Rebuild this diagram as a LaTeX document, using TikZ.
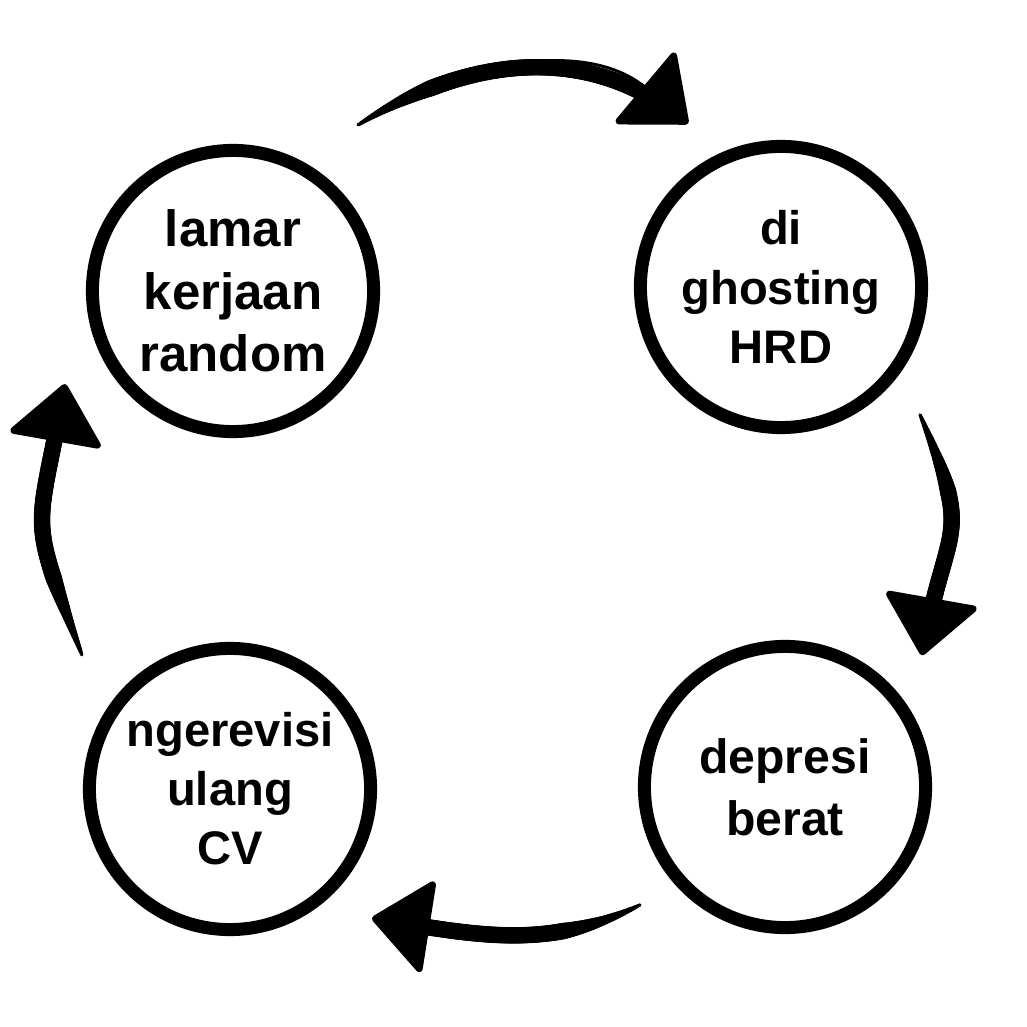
\documentclass[tikz,border=0pt]{standalone}
\usepackage{fontspec}
\setmainfont{Liberation Sans}
\usetikzlibrary{arrows.meta,calc,decorations.markings}

\begin{document}
\begin{tikzpicture}[x=0.01cm, y=0.01cm,
    stage/.style={circle, draw, line width=0.13cm, minimum size=2.81cm, inner sep=0pt, align=center},
    bigtext/.style={font=\fontsize{14.5}{17.8}\selectfont\bfseries},
    smalltext/.style={font=\fontsize{13.4}{16.8}\selectfont\bfseries},
    flow/.style={line width=0.03cm, -{Triangle[round, length=0.6cm, width=0.98cm, line width=0.07cm]},
      postaction={decorate},
      decoration={markings, mark=between positions 0 and -0.45cm step 0.5pt with {\pgfmathsetmacro\brushr{min(2.35,0.5+0.08*\pgfkeysvalueof{/pgf/decoration/mark info/distance from start})}\fill (0,0) circle (\brushr pt);}}}]
  \path[use as bounding box, fill=white] (0,0) rectangle (1027,1027);
  \node[stage, bigtext] (lamar) at (233,736) {lamar\\kerjaan\\random};
  \node[stage, smalltext] (ghost) at (781,740) {di\\ghosting\\HRD};
  \node[stage, smalltext, font=\fontsize{13.7}{17.6}\selectfont\bfseries] (depresi) at (785,240) {depresi\\berat};
  \node[stage, smalltext] (cv) at (230,238) {ngerevisi\\ulang\\CV};
  % ends of the round arrows, just outside the circles
  \coordinate (a1) at ($(lamar)+(53:208)$);
  \coordinate (b1) at ($(ghost)+(119.6:188)$);
  \coordinate (a2) at ($(ghost)+(-42.6:189)$);
  \coordinate (b2) at ($(depresi)+(43.9:190)$);
  \coordinate (a3) at ($(depresi)+(219.1:187)$);
  \coordinate (b3) at ($(cv)+(-42.3:192)$);
  \coordinate (a4) at ($(cv)+(137.8:200)$);
  \coordinate (b4) at ($(lamar)+(209:192)$);
  \draw[flow] (a1) to[out=32, in=140] (b1);
  \draw[flow] (a2) to[out=-67, in=80, looseness=1.5] (b2);
  \draw[flow] (a3) to[out=206.6, in=-9] (b3);
  \draw[flow] (a4) to[out=110.7, in=-100, looseness=1.5] (b4);
\end{tikzpicture}
\end{document}
